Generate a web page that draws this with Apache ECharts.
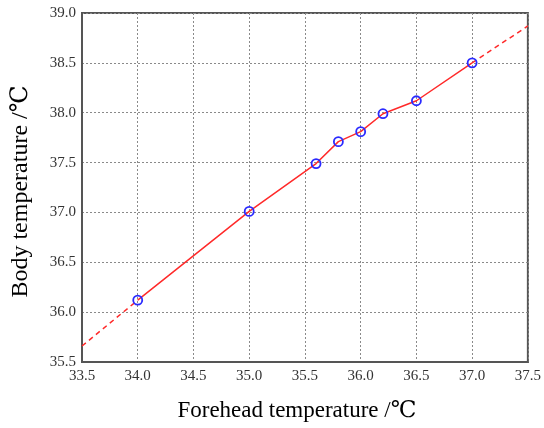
<!DOCTYPE html>
<html>
<head>
<meta charset="utf-8">
<script src="https://cdn.jsdelivr.net/npm/echarts@6/dist/echarts.min.js"></script>
<style>
  html, body { margin: 0; padding: 0; background: #fff; }
  #chart { width: 544px; height: 428px; }
</style>
</head>
<body>
<div id="chart"></div>
<script>
// Calibration readings: forehead (x) vs body (y) temperature, °C
const forehead = [34.0, 35.0, 35.6, 35.8, 36.0, 36.2, 36.5, 37.0];
const body = [36.12, 37.01, 37.49, 37.71, 37.81, 37.99, 38.12, 38.50];

// Dashed extrapolation to the axis limits at both ends
const extForehead = [33.5, 37.5];
const extBody = [35.66, 38.87];

const xTitle = 'Forehead temperature /℃';
const yTitle = 'Body temperature /℃';

const measured = forehead.map((x, i) => [x, body[i]]);
const lowExt = [[extForehead[0], extBody[0]], measured[0]];
const highExt = [measured[measured.length - 1], [extForehead[1], extBody[1]]];

const serif = '"Liberation Serif", "DejaVu Serif", serif';
const gridLine = { show: true, lineStyle: { color: '#8a8a8a', type: [2, 2], width: 1 } };
const tickText = { fontFamily: serif, fontSize: 15, color: '#333' };

const chart = echarts.init(document.getElementById('chart'), null, { renderer: 'canvas' });
chart.setOption({
  animation: false,
  backgroundColor: '#fff',
  grid: {
    left: 82, right: 15, top: 13, bottom: 66,
    show: true, borderColor: '#555', borderWidth: 2, backgroundColor: 'transparent'
  },
  xAxis: {
    type: 'value', min: 33.5, max: 37.5, interval: 0.5,
    name: xTitle, nameLocation: 'middle', nameGap: 37,
    nameTextStyle: { fontFamily: serif, fontSize: 23, color: '#000', padding: [0, 16, 0, 0] },
    axisLine: { show: true, lineStyle: { color: '#555', width: 2 } },
    axisTick: { show: false },
    axisLabel: Object.assign({ margin: 7, formatter: v => v.toFixed(1) }, tickText),
    splitLine: gridLine
  },
  yAxis: {
    type: 'value', min: 35.5, max: 39.0, interval: 0.5,
    name: yTitle, nameLocation: 'middle', nameGap: 49, nameRotate: 90,
    nameTextStyle: { fontFamily: serif, fontSize: 24, color: '#000', padding: [0, 8, 0, 0] },
    axisLine: { show: true, lineStyle: { color: '#555', width: 2 } },
    axisTick: { show: false },
    axisLabel: Object.assign({ margin: 6, formatter: v => v.toFixed(1) }, tickText),
    splitLine: gridLine
  },
  series: [
    {
      type: 'line', data: lowExt, symbol: 'none', silent: true,
      lineStyle: { color: '#ff2a2a', width: 1.5, type: [5, 4] }
    },
    {
      type: 'line', data: highExt, symbol: 'none', silent: true,
      lineStyle: { color: '#ff2a2a', width: 1.5, type: [5, 4] }
    },
    {
      type: 'line', data: measured,
      symbol: 'circle', symbolSize: 9,
      lineStyle: { color: '#ff2a2a', width: 1.5 },
      itemStyle: { color: 'rgba(255,255,255,0)', borderColor: '#2a2aff', borderWidth: 1.8 },
      z: 3
    }
  ]
});
</script>
</body>
</html>
